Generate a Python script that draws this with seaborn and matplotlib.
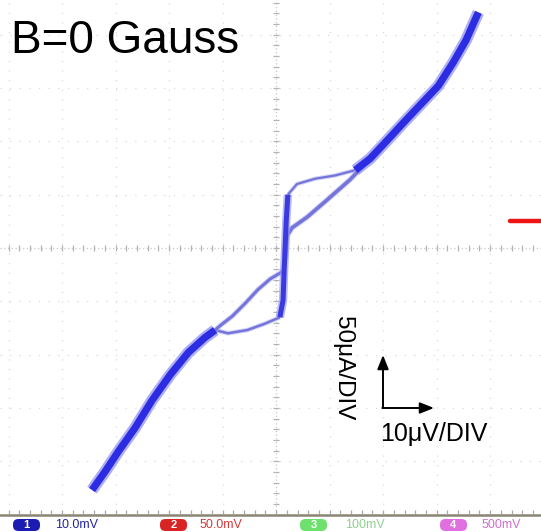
import numpy as np
import matplotlib
matplotlib.use("Agg")
import matplotlib.pyplot as plt
import seaborn as sns
from matplotlib.patches import FancyBboxPatch
from matplotlib.lines import Line2D

sns.set_theme(style="white")
plt.rcParams["font.family"] = ["Liberation Sans", "DejaVu Sans"]

# Scope trace: voltage in µV (10 µV/div), current in µA (50 µA/div)
lower_v = [-34.4, -32.0, -29.5, -26.4, -23.2, -19.8, -16.4, -13.3, -11.4]
lower_i = [-227, -210, -191, -169, -143, -119, -98, -84, -77]
upper_v = [14.8, 17.6, 20.4, 23.7, 26.9, 30.3, 33.1, 35.5, 37.8]
upper_i = [73, 84, 99, 117, 134, 152, 174, 195, 221]
step_v = [0.7, 1.3, 1.5, 1.7, 1.9, 2.2]
step_i = [-65, -49, -21, 3, 26, 50]
# increasing sweep
up_lo_v = [-11.4, -9.0, -5.4, -2.1, 0.7]
up_lo_i = [-77, -80, -77, -71, -65]
up_hi_v = [2.2, 3.9, 7.3, 11.0, 14.8]
up_hi_i = [50, 60, 65, 68, 73]
# decreasing sweep
dn_hi_v = [17.6, 13.8, 9.5, 5.8, 3.0, 2.1, 1.7]
dn_hi_i = [84, 64, 45, 29, 19, 12, -11]
dn_lo_v = [1.5, 0.9, -1.1, -3.4, -5.8, -8.2, -10.5, -11.4]
dn_lo_i = [-21, -23, -29, -39, -52, -64, -73, -77]

# channel readouts
channels = ["1", "2", "3", "4"]
scales = ["10.0mV", "50.0mV", "100mV", "500mV"]
badge_colors = ["#1c1cb4", "#d82424", "#6ee06e", "#e070e0"]
text_colors = ["#2424a0", "#d43a3a", "#8fd08f", "#d070d0"]

W, H = 541, 532
fig = plt.figure(figsize=(W / 100, H / 100), dpi=100)
fig.patch.set_facecolor("white")


def fx(px):
    return px / W


def fy(py):
    return 1 - py / H


ax = fig.add_axes([0, fy(514), 1, 514 / H])
ax.set_xlim(-51.6, 49.5)
ax.set_ylim(-249.5, 232.6)
ax.set_axis_off()

# graticule
grid_kw = dict(color="#dadada", lw=0.9, ls=(0, (1, 6.7)), zorder=0)
for v in range(-50, 50, 10):
    if v != 0:
        ax.axvline(v, **grid_kw)
for i in range(-200, 250, 50):
    if i != 0:
        ax.axhline(i, **grid_kw)
ax.axvline(0, color="#c8c8c8", lw=0.9, ls=(0, (1, 2)), zorder=0)
ax.axhline(0, color="#c8c8c8", lw=0.9, ls=(0, (1, 2)), zorder=0)
minor_x = np.arange(-50, 50, 2)
minor_y = np.arange(-250, 240, 10)
ax.vlines(minor_x, -3.2, 3.2, color="#b4b4b4", lw=0.9, zorder=0)
ax.hlines(minor_y, -0.6, 0.6, color="#b4b4b4", lw=0.9, zorder=0)
ax.vlines(minor_x, -249.5, -245.5, color="#a8a8a8", lw=0.9, zorder=0)


def trace(x, y, lw, color, alpha=1.0):
    sns.lineplot(x=x, y=y, sort=False, estimator=None, ax=ax, color=color,
                 lw=lw, alpha=alpha, legend=False, solid_capstyle="butt",
                 solid_joinstyle="round")


# thin hysteresis branches
for xv, yv, lw in [(up_lo_v, up_lo_i, 1.8), (up_hi_v, up_hi_i, 1.6),
                   (dn_hi_v, dn_hi_i, 2.6), (dn_lo_v, dn_lo_i, 2.2)]:
    trace(xv, yv, lw + 1.5, "#b8b8f0", 0.6)
    trace(xv, yv, lw, "#6a6ad8", 0.9)

# step and main branches
trace(step_v, step_i, 6.0, "#9a9af0", 0.7)
trace(step_v, step_i, 3.6, "#3a3ae0")
for xv, yv in [(lower_v, lower_i), (upper_v, upper_i)]:
    trace(xv, yv, 8.5, "#8c8cf0", 0.7)
    trace(xv, yv, 5.2, "#2c2ce2")

ax.set_xlabel("")
ax.set_ylabel("")

# bottom border of the screen
fig.add_artist(Line2D([0, 1], [fy(515), fy(515)], transform=fig.transFigure,
                      color="#8a8474", lw=1.8))

# trigger level marker
fig.add_artist(Line2D([fx(510), fx(541)], [fy(220.5), fy(220.5)],
                      transform=fig.transFigure, color="#ee1414", lw=3.2))

fig.text(fx(11), fy(53), "B=0 Gauss", fontsize=33, color="black",
         ha="left", va="baseline")

fig.text(fx(343), fy(368), "50μA/DIV", fontsize=17.5, rotation=270,
         ha="center", va="center", color="black")
fig.text(fx(434), fy(434), "10μV/DIV", fontsize=18, ha="center",
         va="center", color="black")

arrow_kw = dict(arrowstyle="-|>,head_length=0.7,head_width=0.28", color="black",
                lw=1.4, shrinkA=0, shrinkB=0)
ax.annotate("", xy=(fx(383), fy(355)), xycoords="figure fraction",
            xytext=(fx(383), fy(408)), textcoords="figure fraction",
            arrowprops=arrow_kw)
ax.annotate("", xy=(fx(434), fy(408)), xycoords="figure fraction",
            xytext=(fx(382.3), fy(408)), textcoords="figure fraction",
            arrowprops=arrow_kw)

# channel readouts along the bottom
badge_x = [13, 160, 300, 440]
text_x = [55, 200, 345, 482]
for ch, sc, bc, tc, bx, tx in zip(channels, scales, badge_colors, text_colors,
                                  badge_x, text_x):
    fig.add_artist(FancyBboxPatch((fx(bx), fy(531)), fx(27), 12 / H,
                                  boxstyle="round,pad=0,rounding_size=0.01",
                                  transform=fig.transFigure, fc=bc, ec="none"))
    fig.text(fx(bx + 13.5), fy(525), ch, fontsize=8, color="white",
             ha="center", va="center", fontweight="bold")
    fig.text(fx(tx), fy(525), sc, fontsize=9, color=tc, ha="left",
             va="center")

fig.savefig("out.png", dpi=100, facecolor="white")
